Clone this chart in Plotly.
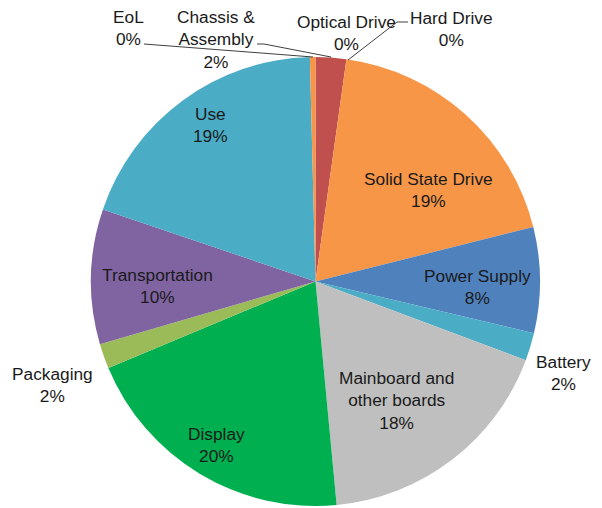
import plotly.graph_objects as go

# ---- data ----
categories = ["Chassis & Assembly", "Optical Drive", "Hard Drive", "Solid State Drive",
              "Power Supply", "Battery", "Mainboard and other boards", "Display",
              "Packaging", "Transportation", "Use", "EoL"]
shares = [2.2, 0.0, 0.0, 18.9, 7.6, 2.0, 17.8, 20.2, 1.8, 9.7, 19.4, 0.4]
colors = ["#C0504D", "#F79646", "#F79646", "#F79646", "#4F81BD", "#4BACC6",
          "#BFBFBF", "#00B050", "#9BBB59", "#8064A2", "#4BACC6", "#F79646"]

# ---- layout helpers (pixel positions of labels in a 602x508 canvas) ----
W, H = 602, 508
CX, CY, R = 315.5, 281.5, 224.5
display_names = {
    "Chassis & Assembly": "Chassis &<br>Assembly",
    "Mainboard and other boards": "Mainboard and<br>other boards",
}
label_pos = {
    "Chassis & Assembly": (216, 40),
    "Optical Drive": (347, 33),
    "Hard Drive": (451, 29),
    "Solid State Drive": (429, 190),
    "Power Supply": (477, 287),
    "Battery": (563, 373),
    "Mainboard and other boards": (396, 400),
    "Display": (217, 445),
    "Packaging": (53, 385),
    "Transportation": (157, 286),
    "Use": (210, 125),
    "EoL": (128, 28),
}
leader_lines = [
    [(144, 44), (313, 57)],
    [(257, 44), (264, 44), (331, 57)],
    [(408, 22), (397, 22), (348, 60)],
]


def px(x):
    return x / W


def py(y):
    return 1 - y / H


total = sum(shares)
fig = go.Figure(go.Pie(
    labels=categories,
    values=shares,
    sort=False,
    direction="clockwise",
    rotation=0,
    marker=dict(colors=colors, line=dict(width=0)),
    textinfo="none",
    hoverinfo="label+percent",
    domain=dict(x=[(CX - R) / W, (CX + R) / W], y=[(H - CY - R) / H, (H - CY + R) / H]),
    showlegend=False,
))

annotations = []
for cat, val in zip(categories, shares):
    pct = round(val / total * 100)
    name = display_names.get(cat, cat)
    x, y = label_pos[cat]
    annotations.append(dict(
        x=px(x), y=py(y), xref="paper", yref="paper",
        text=f"{name}<br>{pct}%", showarrow=False,
        xanchor="center", yanchor="middle", align="center",
        font=dict(family="Liberation Sans, Arial, sans-serif", size=17.3, color="#1a1a1a"),
    ))

shapes = []
for pts in leader_lines:
    path = "M " + " L ".join(f"{px(x)},{py(y)}" for x, y in pts)
    shapes.append(dict(type="path", path=path, xref="paper", yref="paper",
                       line=dict(color="#404040", width=1)))

fig.update_layout(
    width=W, height=H,
    margin=dict(l=0, r=0, t=0, b=0),
    paper_bgcolor="white", plot_bgcolor="white",
    annotations=annotations,
    shapes=shapes,
)

fig.write_html("out.html", config={"displayModeBar": False},
               post_script="document.body.style.margin='0';")
